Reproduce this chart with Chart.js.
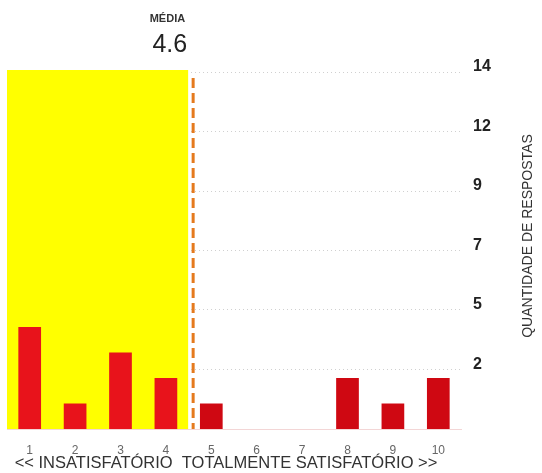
<!DOCTYPE html>
<html>
<head>
<meta charset="utf-8">
<script src="https://cdn.jsdelivr.net/npm/chart.js@4.4.1/dist/chart.umd.min.js"></script>
<style>
  html, body { margin: 0; padding: 0; background: #fff; }
  #wrap { width: 542px; height: 473px; position: relative; }
</style>
</head>
<body>
<div id="wrap"><canvas id="myChart"></canvas></div>
<script>
// notas de 1 a 10 e quantidade de respostas
const notas = ['1', '2', '3', '4', '5', '6', '7', '8', '9', '10'];
const respostas = [4, 1, 3, 2, 1, 0, 0, 2, 1, 2];
const media = 4.6;
const mediaTexto = '4.6';
const tickValores = [2.33, 4.67, 7, 9.33, 11.67, 14];
const tickTextos = ['2', '5', '7', '9', '12', '14'];
const maxY = 14;

const corBarra = respostas.map((v, i) => i < 4 ? '#e8131b' : '#cf0812');

// faixa amarela, linha da media e textos
const extras = {
    id: 'extras',
    beforeDatasetsDraw(chart) {
        const { ctx, chartArea, scales } = chart;
        const xm = scales.x.getPixelForValue(media - 1);
        const yTop = scales.y.getPixelForValue(maxY) - 2;
        ctx.save();
        ctx.fillStyle = '#ffff00';
        ctx.fillRect(chartArea.left, yTop, xm - 5 - chartArea.left, chartArea.bottom - yTop);
        ctx.strokeStyle = '#e57a1e';
        ctx.lineWidth = 3;
        ctx.setLineDash([10, 5]);
        ctx.beginPath();
        ctx.moveTo(xm, yTop + 8);
        ctx.lineTo(xm, chartArea.bottom);
        ctx.stroke();
        ctx.restore();
    },
    afterDraw(chart) {
        const { ctx, scales } = chart;
        const xm = scales.x.getPixelForValue(media - 1);
        ctx.save();
        ctx.textAlign = 'right';
        ctx.textBaseline = 'middle';
        ctx.fillStyle = '#333';
        ctx.font = 'bold 11px "Liberation Sans", Arial';
        ctx.fillText('MÉDIA', xm - 8, 19);
        ctx.fillStyle = '#222';
        ctx.font = '25px "Liberation Sans", Arial';
        ctx.fillText(mediaTexto, xm - 6, 45);

        ctx.textAlign = 'center';
        ctx.fillStyle = '#333';
        ctx.font = '16.5px "Liberation Sans", Arial';
        ctx.fillText('<< INSATISFATÓRIO  TOTALMENTE SATISFATÓRIO >>', 226, 463);

        ctx.translate(528, 236);
        ctx.rotate(-Math.PI / 2);
        ctx.font = '14px "Liberation Sans", Arial';
        ctx.fillStyle = '#333';
        ctx.fillText('QUANTIDADE DE RESPOSTAS', 0, 0);
        ctx.restore();
    }
};

const ctx = document.getElementById('myChart').getContext('2d');
const myChart = new Chart(ctx, {
    type: 'bar',
    data: {
        labels: notas,
        datasets: [{
            data: respostas,
            backgroundColor: corBarra,
            borderWidth: 0,
            barPercentage: 0.5,
            categoryPercentage: 1
        }]
    },
    options: {
        responsive: true,
        maintainAspectRatio: false,
        animation: false,
        layout: { padding: { left: 7, top: 72, right: 0, bottom: 0 } },
        plugins: {
            legend: { display: false },
            tooltip: { enabled: false }
        },
        scales: {
            x: {
                grid: { display: false },
                border: { display: true, color: '#f3d6d6', width: 1 },
                ticks: { color: '#666', font: { size: 12, family: '"Liberation Sans", Arial' }, padding: 6, maxRotation: 0 },
                afterFit(scale) { scale.height = 44; }
            },
            y: {
                position: 'right',
                min: 0,
                max: maxY,
                afterBuildTicks(scale) {
                    scale.ticks = tickValores.map(v => ({ value: v }));
                },
                grid: { color: '#d0d0d0', drawTicks: false, lineWidth: 1 },
                border: { display: false, dash: [1, 3] },
                ticks: {
                    padding: 12,
                    color: '#222',
                    labelOffset: -5,
                    font: { size: 16, weight: 'bold', family: '"Liberation Sans", Arial' },
                    callback: (v, i) => tickTextos[i]
                },
                afterFit(scale) { scale.width = 81; }
            }
        }
    },
    plugins: [extras]
});
</script>
</body>
</html>
